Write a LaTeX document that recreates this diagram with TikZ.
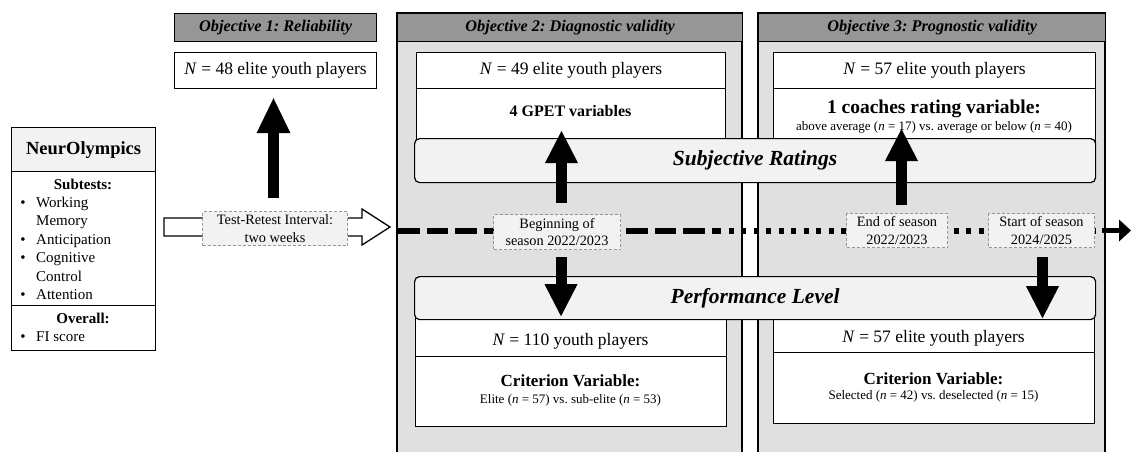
\documentclass[tikz,border=0pt]{standalone}
\usepackage{fontspec}
\setmainfont{Liberation Serif}
\usetikzlibrary{arrows.meta,calc}
\frenchspacing

\definecolor{panelgray}{RGB}{224,224,224}
\definecolor{headgray}{RGB}{150,150,150}
\definecolor{softgray}{RGB}{242,242,242}
\definecolor{dashgray}{RGB}{150,150,150}

\newcommand{\fsz}[2]{\fontsize{#1}{#2}\selectfont}

\tikzset{
  panel/.style={draw=black, line width=1.3pt, fill=panelgray, anchor=north west, inner sep=0pt, outer sep=0pt},
  header/.style={draw=black, line width=1.3pt, fill=headgray, anchor=north west, inner sep=0pt, font=\fsz{16.3}{18}\bfseries\itshape},
  wbox/.style={draw=black, line width=1.2pt, fill=white, anchor=north west, inner sep=0pt},
  band/.style={draw=black, line width=1.2pt, fill=softgray, rounded corners=5pt, anchor=north west, inner sep=0pt, font=\fsz{21.5}{24}\bfseries\itshape},
  stamp/.style={draw=dashgray, dash pattern=on 3pt off 2pt, line width=1pt, fill=softgray, anchor=north west, inner sep=0pt, align=center, font=\fsz{14.3}{17.5}},
  txt/.style={anchor=base, inner sep=0pt},
  item/.style={anchor=base west, inner sep=0pt, font=\fsz{15}{18}},
  bul/.style={anchor=base, inner sep=0pt, font=\fsz{15}{18}},
  nrow/.style={font=\fsz{17.5}{20}},
  blockarrow/.style={line width=11pt, -{Triangle[width=33pt,length=32pt,line width=0pt]}},
  timeline/.style={line width=6pt, line cap=butt},
}

\begin{document}
\begin{tikzpicture}[x=1pt,y=-1pt]
\useasboundingbox (0,0) rectangle (1131,451);

% ---------- NeurOlympics test battery ----------
\node[wbox, fill=softgray, minimum width=144pt, minimum height=44pt, font=\fsz{18.5}{20}\bfseries] (neuro) at (11,127) {NeurOlympics};
\node[wbox, minimum width=144pt, minimum height=134pt] (subt) at (11,171) {};
\node[wbox, minimum width=144pt, minimum height=45pt] (overall) at (11,305) {};

\node[txt, font=\fsz{15}{18}\bfseries] (subhead) at (83,189) {Subtests:};
\node[bul] (bu1) at (23,207) {•};   \node[item] (it1) at (36,207) {Working};
\node[item] (it1b) at (36,225.5) {Memory};
\node[bul] (bu2) at (23,244) {•};   \node[item] (it2) at (36,244) {Anticipation};
\node[bul] (bu3) at (23,262.5) {•}; \node[item] (it3) at (36,262.5) {Cognitive};
\node[item] (it3b) at (36,281) {Control};
\node[bul] (bu4) at (23,299.5) {•}; \node[item] (it4) at (36,299.5) {Attention};
\node[txt, font=\fsz{15}{18}\bfseries] (ovhead) at (83,323) {Overall:};
\node[bul] (bu5) at (23,341) {•};   \node[item] (it5) at (36,341) {FI score};

% ---------- Objective 1 ----------
\node[header, minimum width=202pt, minimum height=28pt] (h1) at (174,13) {Objective 1: Reliability};
\node[wbox, nrow, minimum width=202pt, minimum height=36pt] (n48) at (174,52) {\textit{N} = 48 elite youth players};

% ---------- Objective panels ----------
\node[panel, minimum width=345pt, minimum height=452pt] (p2) at (397,13) {};
\node[header, minimum width=345pt, minimum height=28pt] (h2) at (397,13) {Objective 2: Diagnostic validity};
\node[panel, minimum width=347pt, minimum height=452pt] (p3) at (758,13) {};
\node[header, minimum width=347pt, minimum height=28pt] (h3) at (758,13) {Objective 3: Prognostic validity};

% upper samples
\node[wbox, nrow, minimum width=309pt, minimum height=36pt] (t2a) at (416,52) {\textit{N} = 49 elite youth players};
\node[wbox, minimum width=309pt, minimum height=55pt] (t2b) at (416,88) {};
\node[txt, font=\fsz{16}{18}\bfseries] (gpet) at (570.5,116.5) {4 GPET variables};

\node[wbox, nrow, minimum width=322pt, minimum height=36pt] (t3a) at (773,52) {\textit{N} = 57 elite youth players};
\node[wbox, minimum width=322pt, minimum height=55pt] (t3b) at (773,88) {};
\node[txt, font=\fsz{19.5}{22}\bfseries] (coach) at (934,113.5) {1 coaches rating variable:};
\node[txt, font=\fsz{13}{15}] (coachsub) at (934,130.5) {above average (\textit{n} = 17) vs. average or below (\textit{n} = 40)};

% lower samples
\node[wbox, nrow, minimum width=311pt, minimum height=56pt] (b2a) at (415,300) {};
\node[txt, nrow] (n110) at (570.5,345) {\textit{N} = 110 youth players};
\node[wbox, minimum width=311pt, minimum height=70pt] (b2b) at (415,356) {};
\node[txt, font=\fsz{17}{20}\bfseries] (crit2) at (570.5,386) {Criterion Variable:};
\node[txt, font=\fsz{13}{15}] (crit2sub) at (570.5,403.5) {Elite (\textit{n} = 57) vs. sub-elite (\textit{n} = 53)};

\node[wbox, nrow, minimum width=321pt, minimum height=52pt] (b3a) at (773,300) {};
\node[txt, nrow] (n57b) at (933.5,342) {\textit{N} = 57 elite youth players};
\node[wbox, minimum width=321pt, minimum height=71pt] (b3b) at (773,352) {};
\node[txt, font=\fsz{17}{20}\bfseries] (crit3) at (933.5,384) {Criterion Variable:};
\node[txt, font=\fsz{13}{15}] (crit3sub) at (933.5,399.5) {Selected (\textit{n} = 42) vs. deselected (\textit{n} = 15)};

% bands across both panels
\node[band, minimum width=681pt, minimum height=44pt] (sr) at (414,138) {Subjective Ratings};
\node[band, minimum width=681pt, minimum height=43pt] (pl) at (414,276) {Performance Level};

% ---------- test-retest arrow ----------
\draw[line width=1.3pt, fill=white, line join=miter]
  (164,218) -- (362,218) -- (362,209) -- (390,227) -- (362,245) -- (362,236) -- (164,236) -- cycle;

% ---------- timeline ----------
\coordinate (tl0) at (398,230.5);
\coordinate (tl1) at (716,230.5);
\coordinate (tl2) at (1102,230.5);
\coordinate (tlend) at (1131,230.5);
\draw[timeline, dash pattern=on 21.5pt off 7pt] (tl0) -- (tl1);
\draw[timeline, dash pattern=on 5pt off 7.5pt] (tl1) -- (tl2);
\draw[line width=5.5pt, -{Triangle[width=22pt,length=12pt,line width=0pt]}] (tl2) -- (tlend);

% ---------- time points ----------
\node[stamp, minimum width=145pt, minimum height=34pt] (tr) at (202,211) {Test-Retest Interval:\\two weeks};
\node[stamp, minimum width=127pt, minimum height=35pt] (beg) at (493,214) {Beginning of\\season 2022/2023};
\node[stamp, minimum width=101pt, minimum height=34pt] (eos) at (846,213) {End of season\\2022/2023};
\node[stamp, minimum width=106pt, minimum height=34pt] (sos) at (988,213) {Start of season\\2024/2025};

% ---------- block arrows ----------
\coordinate (a1) at (273.5,198);
\draw[line width=11pt, -{Triangle[width=34pt,length=35pt,line width=0pt]}, shorten >=9pt] (a1) -- (a1 |- n48.south);
\coordinate (a2) at (561.5,203);
\draw[blockarrow, shorten >=-7pt] (a2) -- (a2 |- sr.north);
\coordinate (a3) at (901.5,205);
\draw[blockarrow, shorten >=-9pt] (a3) -- (a3 |- sr.north);
\coordinate (d2) at (561,257);
\draw[blockarrow, shorten >=4pt] (d2) -- (d2 |- pl.south);
\coordinate (d3) at (1042.5,257);
\draw[blockarrow, shorten >=2pt] (d3) -- (d3 |- pl.south);

\end{tikzpicture}
\end{document}
